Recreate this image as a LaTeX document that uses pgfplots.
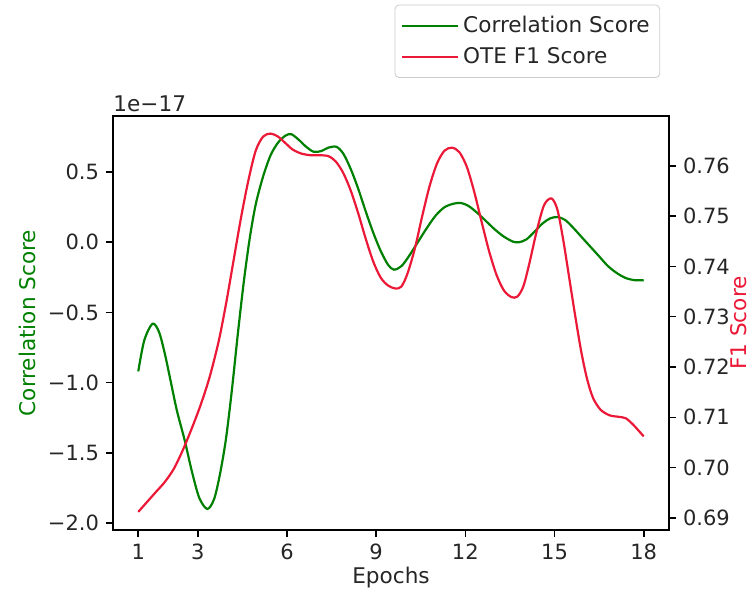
\documentclass[border=0pt]{standalone}
\usepackage{fontspec}
\setmainfont{DejaVu Sans}
\usepackage{pgfplots}
\pgfplotsset{compat=1.18}

\definecolor{corrgreen}{HTML}{008000}
\definecolor{f1red}{HTML}{EB1937}
\definecolor{tickgray}{HTML}{262626}

\pgfplotsset{
  twin/.style={
    scale only axis, width=278pt, height=207pt,
    xmin=0.15, xmax=18.85,
    tick align=outside, major tick length=3.5pt,
    every tick/.style={black, line width=0.8pt},
    tick label style={font=\fontsize{10.5}{12.5}\selectfont, text=tickgray},
    label style={font=\fontsize{10.8}{13}\selectfont},
    axis line style={line width=0.9pt},
    /pgf/number format/assume math mode=true,
  }
}

\begin{document}
\begin{tikzpicture}
\begin{axis}[twin,
  xtick={1,3,6,9,12,15,18}, xtick pos=bottom,
  ymin=-2.05, ymax=0.9,
  ytick={-2,-1.5,-1,-0.5,0,0.5},
  yticklabels={−2.0,−1.5,−1.0,−0.5,0.0,0.5},
  ytick pos=left,
  xlabel={Epochs}, ylabel={Correlation Score},
  xlabel style={at={(axis description cs:0.5,-0.116)}, anchor=center, text=tickgray},
  ylabel style={at={(axis description cs:-0.153,0.5)}, anchor=center, text=corrgreen},
]
% correlation score (x 1e-17)
\addplot[corrgreen, line width=1.1pt, smooth] coordinates {
(1.0,-0.92) (1.2,-0.70) (1.48,-0.58) (1.7,-0.64) (1.9,-0.80)
(2.1,-1.00) (2.3,-1.20) (2.56,-1.41) (2.8,-1.63) (3.05,-1.82)
(3.32,-1.90) (3.55,-1.83) (3.75,-1.65) (3.95,-1.40) (4.15,-1.05)
(4.35,-0.65) (4.55,-0.28) (4.75,0.03) (4.95,0.27) (5.2,0.47)
(5.45,0.62) (5.7,0.71) (5.95,0.76) (6.15,0.77) (6.4,0.73)
(6.65,0.68) (6.9,0.645) (7.15,0.65) (7.4,0.675) (7.67,0.68)
(7.9,0.63) (8.15,0.52) (8.4,0.38) (8.65,0.22) (8.9,0.07)
(9.15,-0.06) (9.4,-0.16) (9.6,-0.195) (9.85,-0.17) (10.1,-0.10)
(10.4,0.00) (10.7,0.10) (11.0,0.19) (11.3,0.25) (11.6,0.275)
(11.85,0.28) (12.1,0.26) (12.4,0.21) (12.7,0.15) (13.0,0.09)
(13.3,0.04) (13.6,0.005) (13.8,0.0) (14.05,0.02) (14.3,0.07)
(14.6,0.135) (14.85,0.17) (15.1,0.18) (15.35,0.16) (15.6,0.11)
(15.9,0.04) (16.2,-0.03) (16.5,-0.10) (16.8,-0.17) (17.1,-0.22)
(17.4,-0.255) (17.7,-0.27) (18.0,-0.27)
};
\coordinate (bl) at (rel axis cs:0,0);
\coordinate (tr) at (rel axis cs:1,1);
\end{axis}
\node[anchor=south west, inner sep=0pt, yshift=2pt, text=tickgray,
  font=\fontsize{10.8}{13}\selectfont] at (bl |- tr) {1e−17};

\begin{axis}[twin,
  axis x line=none, axis y line*=right,
  ymin=0.6876, ymax=0.7699,
  ytick={0.69,0.70,0.71,0.72,0.73,0.74,0.75,0.76},
  yticklabels={0.69,0.70,0.71,0.72,0.73,0.74,0.75,0.76},
  ylabel={F1 Score},
  ylabel style={at={(axis description cs:1.126,0.5)}, anchor=center, rotate=0, text=f1red},
  legend style={at={(0.984,1.092)}, anchor=south east, draw=black!20,
    rounded corners=2pt, font=\fontsize{10.8}{13}\selectfont, text=tickgray,
    inner xsep=3pt, inner ysep=3.5pt, row sep=2pt, cells={anchor=west}},
  legend image code/.code={\draw[#1] (0pt,0pt) -- (22.5pt,0pt);\path (0pt,0pt) -- (28pt,0pt);},
]
\addlegendimage{corrgreen, line width=1.1pt}
\addlegendentry{Correlation Score}
% OTE F1 score
\addplot[f1red, line width=1.1pt, smooth] coordinates {
(1.0,0.6912) (1.3,0.6932) (1.6,0.6952) (1.9,0.6972) (2.2,0.6998)
(2.5,0.7035) (2.8,0.7078) (3.1,0.7125) (3.4,0.7180) (3.7,0.7250)
(3.95,0.7325) (4.2,0.7410) (4.45,0.7495) (4.7,0.7570) (4.95,0.7630)
(5.2,0.7658) (5.45,0.7664) (5.7,0.7658) (5.95,0.7645) (6.2,0.7632)
(6.5,0.7624) (6.8,0.7621) (7.1,0.7621) (7.4,0.7619) (7.65,0.7608)
(7.9,0.7585) (8.15,0.7550) (8.4,0.7505) (8.65,0.7455) (8.9,0.7410)
(9.15,0.7378) (9.4,0.7362) (9.65,0.7356) (9.85,0.7360) (10.05,0.7385)
(10.3,0.7435) (10.55,0.7500) (10.8,0.7560) (11.05,0.7605) (11.3,0.7630)
(11.55,0.7636) (11.8,0.7627) (12.05,0.7598) (12.3,0.7548) (12.55,0.7488)
(12.8,0.7430) (13.05,0.7383) (13.3,0.7352) (13.55,0.7339) (13.75,0.7340)
(13.95,0.7360) (14.15,0.7405) (14.4,0.7470) (14.65,0.7522) (14.9,0.7535)
(15.1,0.7512) (15.3,0.7450) (15.5,0.7375) (15.7,0.7300) (15.9,0.7230)
(16.1,0.7175) (16.3,0.7138) (16.55,0.7115) (16.85,0.7104) (17.15,0.7101)
(17.4,0.7098) (17.65,0.7085) (17.85,0.7072) (18.0,0.7062)
};
\addlegendentry{OTE F1 Score}
\end{axis}
\pgfresetboundingbox
\useasboundingbox ([shift={(-56.5pt,-31.5pt)}]bl) rectangle ([shift={(41pt,58pt)}]tr);
\end{tikzpicture}
\end{document}
